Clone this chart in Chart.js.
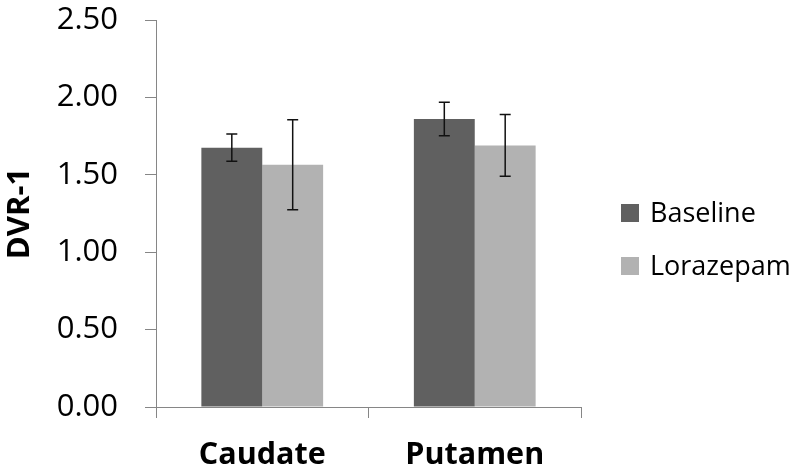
<!DOCTYPE html>
<html>
<head>
<meta charset="utf-8">
<script src="https://cdn.jsdelivr.net/npm/chart.js@4.4.0/dist/chart.umd.min.js"></script>
<style>
  html, body { margin: 0; padding: 0; background: #fff; }
  #wrap { width: 800px; height: 475px; position: relative; }
</style>
</head>
<body>
<div id="wrap"><canvas id="c" width="800" height="475"></canvas></div>
<script>
const categories = ['Caudate', 'Putamen'];
const seriesNames = ['Baseline', 'Lorazepam'];
const baselineValues = [1.675, 1.86];
const baselineErrors = [0.088, 0.108];
const lorazepamValues = [1.565, 1.69];
const lorazepamErrors = [0.29, 0.20];
const yTickLabels = ['0.00', '0.50', '1.00', '1.50', '2.00', '2.50'];
const yTitle = 'DVR-1';

const AXIS = '#868686';
const FONT = "'Open Sans', 'Liberation Sans', sans-serif";

const errorBars = {
  id: 'errorBars',
  afterDatasetsDraw(chart) {
    const ctx = chart.ctx;
    const yScale = chart.scales.y;
    ctx.save();
    ctx.strokeStyle = '#111';
    ctx.lineWidth = 1.5;
    chart.data.datasets.forEach((ds, di) => {
      const meta = chart.getDatasetMeta(di);
      meta.data.forEach((bar, i) => {
        const v = ds.data[i], e = ds.errors[i];
        const yTop = yScale.getPixelForValue(v + e);
        const yBot = yScale.getPixelForValue(v - e);
        const x = bar.x;
        const cap = 5.5;
        ctx.beginPath();
        ctx.moveTo(x, yTop); ctx.lineTo(x, yBot);
        ctx.moveTo(x - cap, yTop); ctx.lineTo(x + cap, yTop);
        ctx.moveTo(x - cap, yBot); ctx.lineTo(x + cap, yBot);
        ctx.stroke();
      });
    });
    ctx.restore();
  }
};

const sideLegend = {
  id: 'sideLegend',
  afterDraw(chart) {
    const ctx = chart.ctx;
    const boxX = 621, size = 18, rows = [213, 266];
    ctx.save();
    ctx.font = "27px " + FONT;
    ctx.textBaseline = 'middle';
    chart.data.datasets.forEach((ds, i) => {
      const cy = rows[i];
      ctx.fillStyle = ds.backgroundColor;
      ctx.fillRect(boxX, cy - size / 2, size, size);
      ctx.fillStyle = '#000';
      ctx.fillText(ds.label, boxX + 29, cy + 1);
    });
    ctx.restore();
  }
};

new Chart(document.getElementById('c'), {
  type: 'bar',
  data: {
    labels: categories,
    datasets: [
      { label: seriesNames[0], data: baselineValues, errors: baselineErrors, backgroundColor: '#606060', borderWidth: 0 },
      { label: seriesNames[1], data: lorazepamValues, errors: lorazepamErrors, backgroundColor: '#b2b2b2', borderWidth: 0 }
    ]
  },
  options: {
    responsive: false,
    animation: false,
    devicePixelRatio: 1,
    layout: { padding: { left: 0, right: 219, top: 20, bottom: 0 } },
    datasets: { bar: { categoryPercentage: 0.573, barPercentage: 1.0 } },
    plugins: { legend: { display: false }, tooltip: { enabled: false } },
    scales: {
      x: {
        grid: { offset: true, drawOnChartArea: false, drawTicks: true, tickLength: 11, color: AXIS, tickColor: AXIS, lineWidth: 1 },
        border: { color: AXIS, width: 1 },
        ticks: { color: '#000', font: { family: FONT, size: 30.5, weight: 'bold' }, padding: 19, maxRotation: 0 },
        afterFit(scale) { scale.height = 68; scale.paddingTop = 0; scale.paddingBottom = 0; }
      },
      y: {
        min: 0, max: 2.5,
        grid: { drawOnChartArea: false, drawTicks: true, tickLength: 11, color: AXIS, tickColor: AXIS },
        border: { color: AXIS, width: 1 },
        ticks: {
          stepSize: 0.5, color: '#000', padding: 27,
          font: { family: FONT, size: 31 },
          callback: (v, i) => yTickLabels[i]
        },
        title: { display: true, text: yTitle, color: '#000', font: { family: FONT, size: 31, weight: 'bold' }, padding: { top: 2, bottom: 0 } },
        afterFit(scale) { scale.width = 156; scale.paddingTop = 0; scale.paddingBottom = 0; }
      }
    }
  },
  plugins: [errorBars, sideLegend]
});
</script>
</body>
</html>
